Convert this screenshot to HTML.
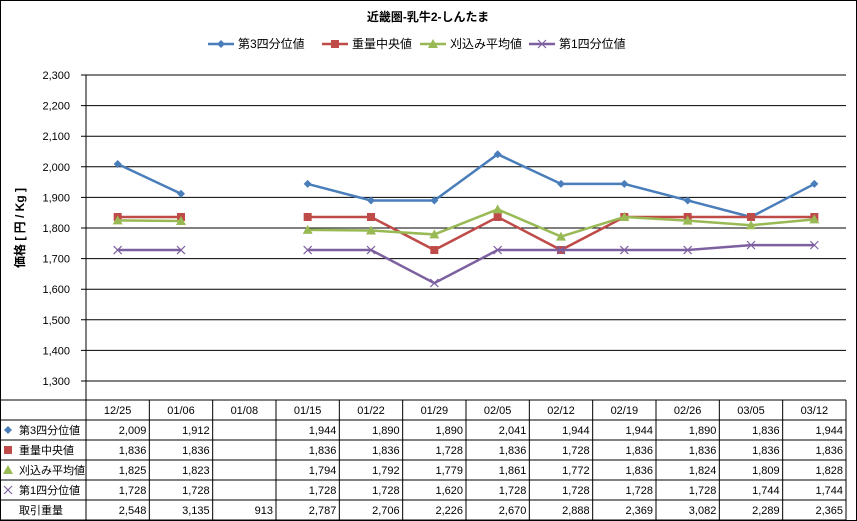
<!DOCTYPE html>
<html><head><meta charset="utf-8">
<style>
body{margin:0;background:#fff;}
svg{display:block;font-family:"Liberation Sans","Noto Sans CJK JP",sans-serif;}
</style></head>
<body>
<svg id="chart" width="857" height="521" viewBox="0 0 857 521" xmlns="http://www.w3.org/2000/svg">
<rect x="0.5" y="0.5" width="856" height="520" fill="#fff" stroke="#000"/>
<text x="428" y="21" text-anchor="middle" font-size="12" font-weight="bold">近畿圏-乳牛2-しんたま</text>
<g id="legend"></g>
<g id="grid"></g>
<g id="series"></g>
<g id="table"></g>
<text transform="translate(24,228) rotate(-90)" text-anchor="middle" font-size="12" font-weight="bold">価格 [ 円 / Kg ]</text>
</svg>
<script>
const categories=["12/25","01/06","01/08","01/15","01/22","01/29","02/05","02/12","02/19","02/26","03/05","03/12"];
const q3=[2009,1912,null,1944,1890,1890,2041,1944,1944,1890,1836,1944];
const median=[1836,1836,null,1836,1836,1728,1836,1728,1836,1836,1836,1836];
const avg=[1825,1823,null,1794,1792,1779,1861,1772,1836,1824,1809,1828];
const q1=[1728,1728,null,1728,1728,1620,1728,1728,1728,1728,1744,1744];
const volume=[2548,3135,913,2787,2706,2226,2670,2888,2369,3082,2289,2365];
const yTicks=[1300,1400,1500,1600,1700,1800,1900,2000,2100,2200,2300];
const seriesNames=["第3四分位値","重量中央値","刈込み平均値","第1四分位値"];
const colors=["#4a7ebb","#be4b48","#98b954","#7d60a0"];
const markers=["diamond","square","triangle","x"];

const NS="http://www.w3.org/2000/svg";
const X0=86,X1=846,YT=75,YB=381,YMIN=1300,YMAX=2300;
const cw=(X1-X0)/categories.length;
function xs(i){return X0+cw*(i+0.5);}
function ys(v){return YB-(v-YMIN)/(YMAX-YMIN)*(YB-YT);}
function mk(tag,attrs,parent){const e=document.createElementNS(NS,tag);for(const k in attrs)e.setAttribute(k,attrs[k]);parent.appendChild(e);return e;}
function fmt(v){return v==null?"":v.toLocaleString("en-US");}
function marker(type,x,y,c,parent){
  let e;
  if(type==="diamond")e=mk("polygon",{points:`${x},${y-4} ${x+4},${y} ${x},${y+4} ${x-4},${y}`,fill:c},parent);
  else if(type==="square")e=mk("rect",{x:x-4,y:y-4,width:8,height:8,fill:c},parent);
  else if(type==="triangle")e=mk("polygon",{points:`${x},${y-5} ${x+5},${y+4} ${x-5},${y+4}`,fill:c},parent);
  else e=mk("path",{d:`M${x-4} ${y-4}L${x+4} ${y+4}M${x+4} ${y-4}L${x-4} ${y+4}`,stroke:c,"stroke-width":1.2,fill:"none"},parent);
  return e;
}
const grid=document.getElementById("grid");
yTicks.forEach(t=>{
  const y=ys(t);
  const l=mk("line",{x1:81,x2:X1,y1:y,y2:y,stroke:"#000","stroke-width":1},grid);
  
  
  const tx=mk("text",{x:70,y:y+4,"text-anchor":"end","font-size":11},grid);
  tx.textContent=t.toLocaleString("en-US");
  
  
});
const ax=mk("line",{x1:X0,x2:X0,y1:YT,y2:400,stroke:"#000"},grid);



const sg=document.getElementById("series");
[q3,median,avg,q1].forEach((vals,s)=>{
  const g=mk("g",{},sg);
  
  
  let seg=[];const segs=[];
  vals.forEach((v,i)=>{if(v==null){if(seg.length)segs.push(seg);seg=[];}else seg.push([xs(i),ys(v)]);});
  if(seg.length)segs.push(seg);
  segs.forEach(sp=>{
    const p=mk("polyline",{points:sp.map(p=>p.join(",")).join(" "),fill:"none",stroke:colors[s],"stroke-width":2.5},g);
    
    
  });
  vals.forEach((v,i)=>{if(v==null)return;
    const m=marker(markers[s],xs(i),ys(v),colors[s],g);
    
    
  });
});

const lg=document.getElementById("legend");
const lx=[208,322,420,529];
seriesNames.forEach((n,s)=>{
  const g=mk("g",{},lg);
  
  
  mk("line",{x1:lx[s],x2:lx[s]+26,y1:44,y2:44,stroke:colors[s],"stroke-width":2.5},g);
  marker(markers[s],lx[s]+13,44,colors[s],g);
  const t=mk("text",{x:lx[s]+30,y:48,"font-size":12},g);
  t.textContent=n;
});

const tb=document.getElementById("table");
const TY=400,RH=20;
for(let r=0;r<=6;r++){
  const l=mk("line",{x1:r===0?0:0,x2:X1,y1:TY+r*RH,y2:TY+r*RH,stroke:"#000"},tb);
  
  
}
for(let c=0;c<=categories.length;c++){
  const x=X0+c*cw;
  const l=mk("line",{x1:x,x2:x,y1:TY,y2:TY+6*RH,stroke:"#000"},tb);
  
  
}
categories.forEach((c,i)=>{
  const t=mk("text",{x:xs(i),y:TY+14,"text-anchor":"middle","font-size":11},tb);
  t.textContent=c;
  
  
});
const rows=[q3,median,avg,q1,volume];
const rowNames=[...seriesNames,"取引重量"];
rows.forEach((vals,r)=>{
  const y=TY+RH*(r+1)+14;
  if(r<4)marker(markers[r],8,y-4,colors[r],tb);
  const h=mk("text",{x:19,y:y,"font-size":11},tb);
  h.textContent=rowNames[r];
  
  
  vals.forEach((v,i)=>{
    const t=mk("text",{x:X0+cw*(i+1)-3,y:y,"text-anchor":"end","font-size":11},tb);
    t.textContent=fmt(v);
    
    
  });
});
</script>
</body></html>
